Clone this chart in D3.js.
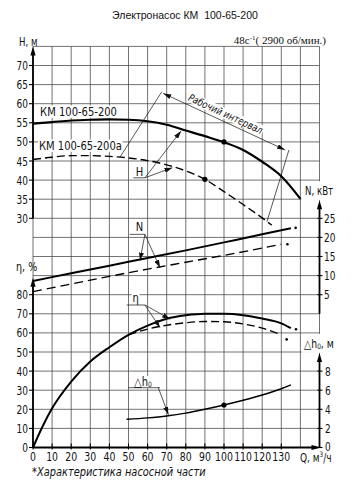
<!DOCTYPE html>
<html><head><meta charset="utf-8">
<script src="https://cdn.jsdelivr.net/npm/d3@7"></script>
<style>
body{margin:0;background:#fff;}
svg{display:block;}
.n{font-family:"DejaVu Sans",sans-serif;fill:#111;}
</style></head><body>
<svg id="c" width="355" height="500"></svg>
<script>
// ---- data ----
const qTicks   = [0,10,20,30,40,50,60,70,80,90,100,110,120,130];
const hTicks   = [30,35,40,45,50,55,60,65,70];
const nTicks   = [5,10,15,20,25];
const etaTicks = [0,10,20,30,40,50,60,70,80];
const dhTicks  = [0,2,4,6,8];

const qH    = [0,10,20,30,40,50,60,70,80,90,100,110,120,130,140];
const hMain = [54.8,55.2,55.6,55.8,55.9,55.8,55.4,54.5,53.0,51.5,49.9,47.9,44.8,41.0,35.1];
const qHa   = [0,10,20,30,40,50,60,70,80,90,100,110,120,125];
const hA    = [45.4,46.0,46.4,46.4,46.2,45.8,45.1,44.0,42.4,40.2,37.0,33.6,30.1,28.2];
const qN    = [0,20,40,60,80,100,120,135];
const nMain = [8.6,10.6,12.6,14.6,16.6,18.7,20.8,22.4];
const qNa   = [0,20,40,60,80,100,120,130];
const nA    = [5.8,7.8,9.8,11.7,13.5,15.3,17.2,18.2];
const qEta  = [0,5,10,20,30,40,50,60,70,80,90,100,110,120,130,135];
const etaMain = [0,11,20.5,34.5,45,52.5,59,63.8,67.4,69.2,70,70,69.3,67.5,65,62.5];
const qEtaA = [50,60,70,80,90,100,110,120,130];
const etaA  = [59,62,64,65.3,66,65.8,64.7,62.5,59];
const qDh   = [49,60,70,80,90,100,110,120,130,135];
const dh    = [2.95,3.1,3.3,3.6,4.0,4.45,4.95,5.5,6.15,6.55];
// marked points
const ptH  = [100,50], ptHa = [90,40.2], ptDh = [100,4.45];
const starN = [137.5,22.5], starNa = [133.2,18.2], starE = [137.7,61.9], starEa = [132.8,56.6];

// ---- scales ----
const cell = 19.1, y0 = 447.5, yTop = y0 - 21*cell;
const x  = d3.scaleLinear().domain([0,150]).range([33, 33+15*cell]);
const yH = d3.scaleLinear().domain([30,70]).range([y0-12*cell, y0-20*cell]);
const yN = d3.scaleLinear().domain([0,25]).range([y0-7*cell, y0-12*cell]);
const yE = d3.scaleLinear().domain([0,80]).range([y0, y0-8*cell]);
const yD = d3.scaleLinear().domain([0,8]).range([y0, y0-4*cell]);
const xL = x(0), xR = x(150);

const svg = d3.select('#c');
svg.append('rect').attr('width',355).attr('height',500).attr('fill','#fff');

const defs = svg.append('defs');
defs.append('marker').attr('id','ar').attr('markerUnits','userSpaceOnUse')
  .attr('markerWidth',8).attr('markerHeight',5).attr('refX',8).attr('refY',2.5)
  .attr('orient','auto-start-reverse')
  .append('path').attr('d','M0,0 L8,2.5 L0,5 Z').attr('fill','#111');

// ---- grid ----
const grid = svg.append('g').attr('stroke','#444').attr('stroke-width',0.75);
d3.range(0,151,10).forEach(q=>{
  grid.append('line').attr('x1',x(q)).attr('x2',x(q)).attr('y1',yTop).attr('y2',y0);
});
d3.range(0,22).forEach(k=>{
  grid.append('line').attr('x1',xL).attr('x2',xR).attr('y1',y0-k*cell).attr('y2',y0-k*cell);
});
// gaps for right-side axis titles
svg.append('rect').attr('x',x(140)+1).attr('y',yH(35)-18).attr('width',60).attr('height',19).attr('fill','#fff');
svg.append('rect').attr('x',x(140)+1).attr('y',yE(60)+1).attr('width',60).attr('height',19).attr('fill','#fff');

// ---- text helper: condensed (horizontally scaled) text, optional white background ----
function label(g, px, py, txt, size, anchor, opts={}) {
  const sx = opts.sx ?? 0.8;
  const gg = g.append('g').attr('transform',`translate(${px},${py}) scale(${sx},1)`);
  const t = gg.append('text').attr('class','n').attr('x',0).attr('y',0)
    .attr('font-size',size).attr('text-anchor',anchor||'start');
  if (opts.italic) t.attr('font-style','italic');
  if (typeof txt === 'string') t.text(txt); else txt(t);
  if (opts.bg) {
    const b = t.node().getBBox();
    gg.insert('rect', () => t.node()).attr('x',b.x-1).attr('y',b.y+1).attr('width',b.width+2)
      .attr('height',b.height-2).attr('fill','#fff');
  }
  return t;
}

// ---- curves ----
const lineGen = (qs, vs, ys) => d3.line().curve(d3.curveMonotoneX)
  .x((d,i)=>x(qs[i])).y((d,i)=>ys(vs[i]))(qs);
const curves = svg.append('g').attr('fill','none').attr('stroke','#000');
curves.append('path').attr('d',lineGen(qH,hMain,yH)).attr('stroke-width',2.2);
curves.append('path').attr('d',lineGen(qHa,hA,yH)).attr('stroke-width',1.4).attr('stroke-dasharray','8,4');
curves.append('path').attr('d',lineGen(qN,nMain,yN)).attr('stroke-width',2.0);
curves.append('path').attr('d',lineGen(qNa,nA,yN)).attr('stroke-width',1.4).attr('stroke-dasharray','9,5');
curves.append('path').attr('d',lineGen(qEta,etaMain,yE)).attr('stroke-width',2.0);
curves.append('path').attr('d',lineGen(qEtaA,etaA,yE)).attr('stroke-width',1.4).attr('stroke-dasharray','8,4');
curves.append('path').attr('d',lineGen(qDh,dh,yD)).attr('stroke-width',1.4);

const dots = svg.append('g').attr('fill','#000');
[[ptH,yH],[ptHa,yH],[ptDh,yD]].forEach(([p,s])=>dots.append('circle').attr('cx',x(p[0])).attr('cy',s(p[1])).attr('r',2.6));
[[starN,yN],[starNa,yN],[starE,yE],[starEa,yE]].forEach(([p,s])=>dots.append('circle').attr('cx',x(p[0])).attr('cy',s(p[1])).attr('r',1.3));

// ---- axes ----
const ax = svg.append('g').attr('stroke','#000');
function arrowUp(px, yBot, yTip) {
  ax.append('line').attr('x1',px).attr('x2',px).attr('y1',yBot).attr('y2',yTip+6).attr('stroke-width',1.8);
  ax.append('path').attr('d',`M${px},${yTip} L${px-2.6},${yTip+9} L${px+2.6},${yTip+9} Z`).attr('fill','#000').attr('stroke','none');
}
arrowUp(xL, yH(30), yTop);
arrowUp(xL, y0, yE(80)-17);
arrowUp(xR, yN(0), yN(25)-18);
arrowUp(xR, y0, yD(8)-18);
ax.append('line').attr('x1',xL).attr('x2',xR-5).attr('y1',y0).attr('y2',y0).attr('stroke-width',1.8);
ax.append('path').attr('d',`M${xR+2},${y0} L${xR-8},${y0-2.6} L${xR-8},${y0+2.6} Z`).attr('fill','#000').attr('stroke','none');

const tk = svg.append('g').attr('stroke','#000').attr('stroke-width',1.1);
hTicks.forEach(v=>tk.append('line').attr('x1',xL-4).attr('x2',xL).attr('y1',yH(v)).attr('y2',yH(v)));
etaTicks.forEach(v=>tk.append('line').attr('x1',xL-4).attr('x2',xL).attr('y1',yE(v)).attr('y2',yE(v)));
nTicks.forEach(v=>tk.append('line').attr('x1',xR-2).attr('x2',xR+3).attr('y1',yN(v)).attr('y2',yN(v)));
dhTicks.forEach(v=>tk.append('line').attr('x1',xR-2).attr('x2',xR+3).attr('y1',yD(v)).attr('y2',yD(v)));
qTicks.forEach(v=>tk.append('line').attr('x1',x(v)).attr('x2',x(v)).attr('y1',y0-4).attr('y2',y0+2));

const tl = svg.append('g');
hTicks.forEach(v=>label(tl, xL-5, yH(v)+4.5, String(v), 12, 'end', {sx:0.75}));
etaTicks.forEach(v=>label(tl, xL-5, yE(v)+4.5, String(v), 12, 'end', {sx:0.75}));
nTicks.forEach(v=>label(tl, xR+4.5, yN(v)+4.5, String(v), 12, 'start', {sx:0.75}));
dhTicks.forEach(v=>label(tl, xR+5.5, yD(v)+(v===0?3.5:4.5), String(v), 12, 'start', {sx:0.75}));
qTicks.forEach(v=>label(tl, x(v), 461, String(v), 12, 'middle', {sx:0.78}));

// axis titles
label(tl, 19, 45.5, 'H, м', 12, 'start', {sx:0.72});
label(tl, 16, 271, 'η, %', 12, 'start', {sx:0.8});
label(tl, 305, 195, 'N, кВт', 12, 'start', {sx:0.72});
label(tl, 304, 348, t=>{ t.append('tspan').text('△h'); t.append('tspan').attr('font-size',7.5).attr('dy',1).text('0');
  t.append('tspan').attr('dy',-1).text(', м'); }, 12, 'start', {sx:0.78});
label(tl, 300, 461.5, t=>{ t.append('tspan').text('Q, м'); t.append('tspan').attr('font-size',7.5).attr('dy',-4.5).text('3');
  t.append('tspan').attr('dy',4.5).text('/ч'); }, 12, 'start', {sx:0.75});

// title & speed
svg.append('text').attr('x',185).attr('y',19).attr('text-anchor','middle')
  .attr('font-family','"Liberation Sans",Arial,sans-serif').attr('font-size',10.5).attr('fill','#111')
  .attr('xml:space','preserve').style('white-space','pre').text('Электронасос КМ  100-65-200');
const sp = svg.append('text').attr('x',326).attr('y',44).attr('text-anchor','end')
  .attr('font-family','"Liberation Serif","Times New Roman",serif').attr('font-size',11).attr('fill','#111')
  .attr('xml:space','preserve').style('white-space','pre');
sp.append('tspan').text('48c');
sp.append('tspan').attr('font-size',7).attr('dy',-4).text('-1');
sp.append('tspan').attr('dy',4).text('( 2900 об/мин.)');

// footer
label(svg, 32, 476, '*Характеристика насосной части', 12, 'start', {italic:true, sx:0.82});

// ---- annotations ----
const an = svg.append('g');
label(an, x(3.7), yH(56.9), 'КМ 100-65-200', 12.5, 'start', {bg:true, sx:0.8});
label(an, x(3.1), yH(48.0), 'КМ 100-65-200а', 12.5, 'start', {bg:true, sx:0.8});

const ld = svg.append('g').attr('stroke','#111').attr('stroke-width',0.7).attr('fill','none');
const atH  = d3.scaleLinear().domain(qH).range(hMain);
const atHa = d3.scaleLinear().domain(qHa).range(hA);
const atN  = d3.scaleLinear().domain(qN).range(nMain);
const atNa = d3.scaleLinear().domain(qNa).range(nA);
const atE  = d3.scaleLinear().domain(qEta).range(etaMain);
const atEa = d3.scaleLinear().domain(qEtaA).range(etaA);
const atD  = d3.scaleLinear().domain(qDh).range(dh);
function seg(x1,y1,x2,y2,arrow){ const l=ld.append('line').attr('x1',x1).attr('y1',y1).attr('x2',x2).attr('y2',y2);
  if(arrow) l.attr('marker-end','url(#ar)'); return l; }

// H label
label(an, x(55.7), yH(41.2), 'H', 12.5, 'middle', {bg:true, sx:0.8});
seg(x(52.5), yH(40.6), x(58.6), yH(40.6));
seg(x(58.6), yH(40.6), x(77.5), yH(atH(77.5))+2, true);
seg(x(58.6), yH(40.6), x(73), yH(atHa(73))+1, true);
// N label
label(an, x(55.8), yN(21.7), 'N', 12.5, 'middle', {bg:true, sx:0.8});
seg(x(50.6), yN(20.8), x(58.6), yN(20.8));
seg(x(58.6), yN(20.8), x(56), yN(atN(56))+1, true);
seg(x(58.6), yN(20.8), x(66.5), yN(atNa(66.5))+1, true);
// eta label
label(an, x(53.7), yE(76.2), 'η', 12.5, 'middle', {bg:true, sx:0.8});
seg(x(49.1), yE(74.6), x(58.6), yE(74.6));
seg(x(58.6), yE(74.6), x(71.8), yE(atE(71.8))+1, true);
seg(x(58.6), yE(74.6), x(66.5), yE(atEa(66.5))+1, true);
// dh label
label(an, x(57.6), yD(6.44), t=>{ t.append('tspan').text('△h'); t.append('tspan').attr('font-size',7.5).attr('dy',1).text('0'); }, 12.5, 'middle', {bg:true, sx:0.8});
seg(x(49.9), yD(6.26), x(66.5), yD(6.26));
seg(x(65.6), yD(6.26), x(70.9), yD(atD(70.9))-1, true);

// working interval
const w1 = [45.5, atHa(45.5)], w1t = [67.4, 63.1];
const w2 = [122.5, atHa(122.5)], w2t = [134, 47.9];
seg(x(w1[0]), yH(w1[1]), x(w1t[0]), yH(w1t[1]));
seg(x(w2[0]), yH(w2[1]), x(w2t[0]), yH(w2t[1]));
const a1 = [x(68.2), yH(62.7)], a2 = [x(132.0), yH(47.9)];
ld.append('line').attr('x1',a1[0]).attr('y1',a1[1]).attr('x2',a2[0]).attr('y2',a2[1])
  .attr('marker-start','url(#ar)').attr('marker-end','url(#ar)');
const ang = Math.atan2(a2[1]-a1[1], a2[0]-a1[0])*180/Math.PI;
const mx = (a1[0]+a2[0])/2, my = (a1[1]+a2[1])/2;
const wg = svg.append('g').attr('transform',`translate(${mx},${my}) rotate(${ang})`);
label(wg, -2, -4, 'Рабочий интервал', 10.5, 'middle', {italic:true, bg:true, sx:0.8});
</script>
</body></html>
